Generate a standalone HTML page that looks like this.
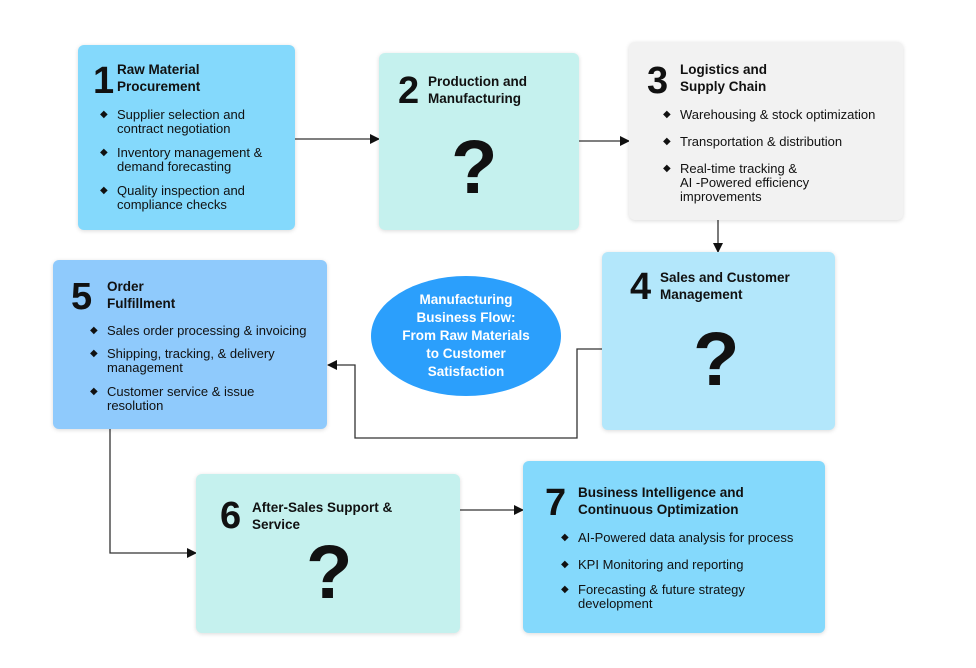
<!DOCTYPE html>
<html><head><meta charset="utf-8"><style>
body{margin:0;width:976px;height:668px;background:#fff;position:relative;font-family:"Liberation Sans",sans-serif;color:#111;overflow:hidden}
.b{position:absolute;border-radius:6px;box-shadow:0 1px 4px rgba(0,0,0,.15)}
.n{position:absolute;font-size:38px;font-weight:bold;line-height:38px}
.t{position:absolute;font-size:13.5px;font-weight:bold;line-height:17px}
ul{position:absolute;margin:0;padding:0;list-style:none;font-size:13px;line-height:14px}
li{position:relative;padding-left:17px}
li:before{content:"◆";position:absolute;left:0;top:0;font-size:10px}
.q{position:absolute;font-size:76px;line-height:76px;font-weight:bold}
</style></head><body>
<svg width="976" height="668" style="position:absolute;left:0;top:0">
<defs><marker id="a" markerWidth="10" markerHeight="10" refX="9" refY="5" orient="auto" markerUnits="userSpaceOnUse"><path d="M0,0 L10,5 L0,10z" fill="#111"/></marker></defs>
<g stroke="#333" stroke-width="1.3" fill="none">
<path d="M295,139 H379" marker-end="url(#a)"/>
<path d="M579,141 H629" marker-end="url(#a)"/>
<path d="M718,220 V252" marker-end="url(#a)"/>
<path d="M602,349 H577 V438 H355 V365 H328" marker-end="url(#a)"/>
<path d="M110,429 V553 H196" marker-end="url(#a)"/>
<path d="M460,510 H523" marker-end="url(#a)"/>
</g></svg>

<div class="b" style="left:78px;top:45px;width:217px;height:185px;background:#84d9fc"></div>
<div class="n" style="left:93px;top:62px">1</div>
<div class="t" style="left:117px;top:61px">Raw Material<br>Procurement</div>
<ul style="left:100px;top:108px;width:175px"><li>Supplier selection and contract negotiation</li><li style="margin-top:10px">Inventory management &amp; demand forecasting</li><li style="margin-top:10px">Quality inspection and compliance checks</li></ul>

<div class="b" style="left:379px;top:53px;width:200px;height:177px;background:#c5f1ee"></div>
<div class="n" style="left:398px;top:72px">2</div>
<div class="t" style="left:428px;top:73px">Production and<br>Manufacturing</div>
<div class="q" style="left:451px;top:130px">?</div>

<div class="b" style="left:629px;top:42px;width:274px;height:178px;background:#f2f2f2"></div>
<div class="n" style="left:647px;top:62px">3</div>
<div class="t" style="left:680px;top:61px">Logistics and<br>Supply Chain</div>
<ul style="left:663px;top:108px;width:235px"><li>Warehousing &amp; stock optimization</li><li style="margin-top:13px">Transportation &amp; distribution</li><li style="margin-top:13px">Real-time tracking &amp;<br>AI -Powered efficiency<br>improvements</li></ul>

<div class="b" style="left:602px;top:252px;width:233px;height:178px;background:#b3e7fb"></div>
<div class="n" style="left:630px;top:268px">4</div>
<div class="t" style="left:660px;top:269px">Sales and Customer<br>Management</div>
<div class="q" style="left:693px;top:322px">?</div>

<div class="b" style="left:53px;top:260px;width:274px;height:169px;background:#8fcafc"></div>
<div class="n" style="left:71px;top:278px">5</div>
<div class="t" style="left:107px;top:278px">Order<br>Fulfillment</div>
<ul style="left:90px;top:324px;width:235px"><li>Sales order processing &amp; invoicing</li><li style="margin-top:9px">Shipping, tracking, &amp; delivery<br>management</li><li style="margin-top:10px">Customer service &amp; issue<br>resolution</li></ul>

<div style="position:absolute;left:371px;top:276px;width:190px;height:120px;border-radius:50%;background:#2b9ffc;color:#fff;font-weight:bold;font-size:13.5px;line-height:18px;text-align:center;display:flex;align-items:center;justify-content:center">Manufacturing<br>Business Flow:<br>From Raw Materials<br>to Customer<br>Satisfaction</div>

<div class="b" style="left:196px;top:474px;width:264px;height:159px;background:#c5f1ee"></div>
<div class="n" style="left:220px;top:497px">6</div>
<div class="t" style="left:252px;top:499px">After-Sales Support &amp;<br>Service</div>
<div class="q" style="left:306px;top:535px">?</div>

<div class="b" style="left:523px;top:461px;width:302px;height:172px;background:#84d9fc"></div>
<div class="n" style="left:545px;top:484px">7</div>
<div class="t" style="left:578px;top:484px">Business Intelligence and<br>Continuous Optimization</div>
<ul style="left:561px;top:531px;width:260px"><li>AI-Powered data analysis for process</li><li style="margin-top:13px">KPI Monitoring and reporting</li><li style="margin-top:11px">Forecasting &amp; future strategy<br>development</li></ul>
</body></html>
